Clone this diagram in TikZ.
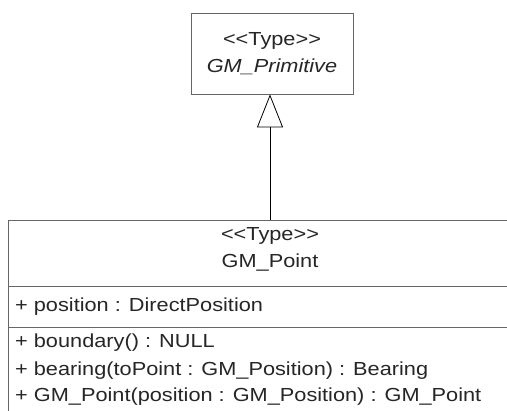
\documentclass[tikz,border=0pt]{standalone}
\usepackage{fontspec}
\setmainfont{Liberation Sans}[FakeStretch=1.15]
\usetikzlibrary{arrows.meta}
\newcommand{\stereo}[1]{<\kern0pt<#1>\kern0pt>}
\begin{document}
\begin{tikzpicture}[x=1pt,y=1pt,
  box/.style={draw=black!60, line width=0.8pt, inner sep=0pt, fill=white},
  txt/.style={inner sep=0pt, text=black!85, font=\fontsize{18.9}{23}\selectfont},
  conn/.style={draw=black, line width=0.8pt, -{Triangle[open, length=33pt, width=26pt, line width=0.8pt]}}]
\useasboundingbox (0,0) rectangle (507,411);
\clip (0,0) rectangle (507,411);
% top class
\node[box, minimum width=162pt, minimum height=81pt] (prim) at (272,357.5) {};
\node[txt, anchor=base] (primst) at (272,365) {\stereo{Type}};
\node[txt, anchor=base, font=\fontsize{18.9}{23}\selectfont\itshape] (primname) at (272,338) {GM\_Primitive};
% bottom class
\node[box, anchor=north west, minimum width=560pt, minimum height=240pt] (pt) at (8,191) {};
\coordinate (d1l) at (8,125);
\coordinate (d2l) at (8,84);
\draw[draw=black!60, line width=0.8pt] (d1l) -- (d1l -| pt.east);
\draw[draw=black!60, line width=0.8pt] (d2l) -- (d2l -| pt.east);
\node[txt, anchor=base] (ptst) at (270,170) {\stereo{Type}};
\node[txt, anchor=base] (ptname) at (270,143) {GM\_Point};
\node[txt, anchor=base west] (attr) at (15,99) {+ position : DirectPosition};
\node[txt, anchor=base west] (op1) at (15,63) {+ boundary() : NULL};
\node[txt, anchor=base west] (op2) at (15,35) {+ bearing(toPoint : GM\_Position) : Bearing};
\node[txt, anchor=base west] (op3) at (15,9) {+ GM\_Point(position : GM\_Position) : GM\_Point};
% generalization
\coordinate (gstart) at (270,191);
\draw[conn] (gstart) -- (gstart |- prim.south);
\end{tikzpicture}
\end{document}
